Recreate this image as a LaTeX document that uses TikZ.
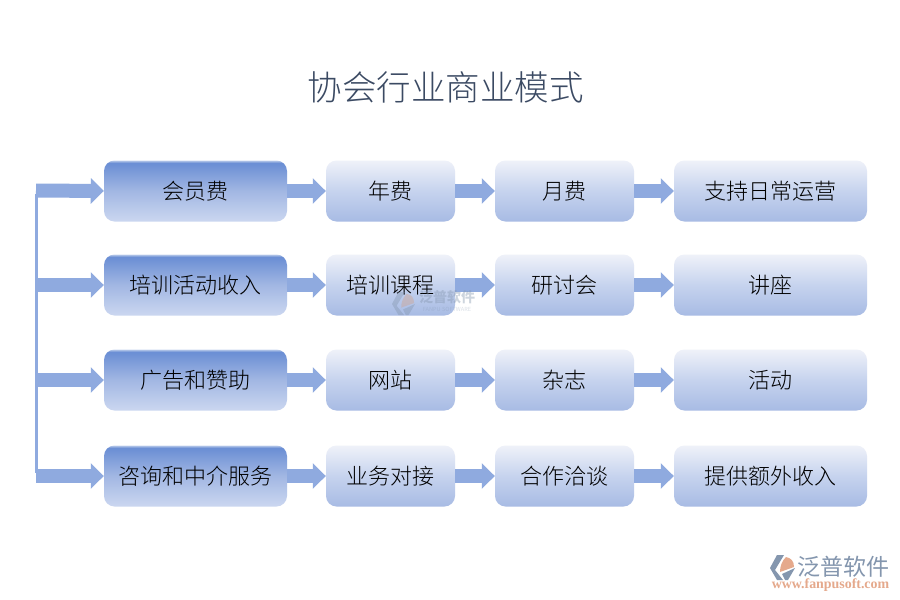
\documentclass[tikz,border=0pt]{standalone}
\usepackage{fontspec}
\usetikzlibrary{arrows.meta,positioning}
\newfontfamily\cjk{Noto Sans CJK SC}[Scale=1]
\newfontfamily\cjklight{Noto Sans CJK SC Light}
\setmainfont{Liberation Serif}
\definecolor{arrowblue}{HTML}{8FAADF}
\definecolor{titlecol}{HTML}{3B4A63}
\definecolor{logogray}{HTML}{8496AE}
\definecolor{logosalmon}{HTML}{E5A98C}
\definecolor{dA}{HTML}{CBD7F0}
\definecolor{dB}{HTML}{A2B7E3}
\definecolor{dD}{HTML}{6A8ED4}
\definecolor{dE}{HTML}{B9CAEA}
\definecolor{lA}{HTML}{A7BBE4}
\definecolor{lB}{HTML}{C6D3EE}
\definecolor{lC}{HTML}{EFF2F9}
\pgfdeclareverticalshading{darkshade}{100bp}{color(0bp)=(dA); color(25bp)=(dA); color(50bp)=(dB); color(73bp)=(dD); color(75bp)=(dE); color(100bp)=(dE)}
\pgfdeclareverticalshading{lightshade}{100bp}{color(0bp)=(lA); color(25bp)=(lA); color(50bp)=(lB); color(75bp)=(lC); color(100bp)=(lC)}
\tikzset{
 x=1pt,y=-1pt,
 lead/.style={anchor=center,minimum height=61pt,minimum width=183pt,rounded corners=10.5pt,shading=darkshade,inner sep=0pt,font=\cjklight\fontsize{22}{22}\selectfont,text=black},
 item/.style={anchor=center,minimum height=61pt,rounded corners=10.5pt,shading=lightshade,inner sep=0pt,font=\cjklight\fontsize{22}{22}\selectfont,text=black},
 flow/.style={draw=arrowblue,line width=14pt,-{Triangle[length=13pt,width=25pt,fill=arrowblue]}},
 trunk/.style={draw=arrowblue,line width=3pt},
}
\begin{document}
\begin{tikzpicture}
\useasboundingbox (0,0) rectangle (900,600);
\fill[white] (0,0) rectangle (900,600);
\node[font=\cjklight\fontsize{34.5}{34.5}\selectfont,text=titlecol] (title) at (445.5,87) {协会行业商业模式};
% row 1
\node[lead] (a1) at (195.5,191) {会员费};
\node[item,minimum width=129pt] (b1) at (390.5,191) {年费};
\node[item,minimum width=139pt] (c1) at (564.5,191) {月费};
\node[item,minimum width=193pt] (d1) at (770.5,191) {支持日常运营};
% row 2
\node[lead] (a2) at (195.5,285) {培训活动收入};
\node[item,minimum width=129pt] (b2) at (390.5,285) {培训课程};
\node[item,minimum width=139pt] (c2) at (564.5,285) {研讨会};
\node[item,minimum width=193pt] (d2) at (770.5,285) {讲座};
% row 3
\node[lead] (a3) at (195.5,380) {广告和赞助};
\node[item,minimum width=129pt] (b3) at (390.5,380) {网站};
\node[item,minimum width=139pt] (c3) at (564.5,380) {杂志};
\node[item,minimum width=193pt] (d3) at (770.5,380) {活动};
% row 4
\node[lead] (a4) at (195.5,476) {咨询和中介服务};
\node[item,minimum width=129pt] (b4) at (390.5,476) {业务对接};
\node[item,minimum width=139pt] (c4) at (564.5,476) {合作洽谈};
\node[item,minimum width=193pt] (d4) at (770.5,476) {提供额外收入};
% trunk coordinates
\coordinate (t1) at (36,190.5);
\coordinate (t2) at (36,285);
\coordinate (t3) at (36,380);
\coordinate (t4) at (36,476);
\draw[trunk] ([yshift=-3pt]t1) -- ([yshift=3pt]t4);
\foreach \r in {1,2,3,4}{
 \draw[flow] (t\r) -- (a\r.west);
 \draw[flow] (a\r.east) -- (b\r.west);
 \draw[flow] (b\r.east) -- (c\r.west);
 \draw[flow] (c\r.east) -- (d\r.west);
}
% centre watermark
\begin{scope}[opacity=.4,shift={(392,292)},scale=.92]
 \fill[logogray] (7,0) -- (14,0) -- (5,15) -- (13,25) -- (7,25) -- (0,13) -- cycle;
 \fill[logosalmon!80!gray] (16,2) .. controls (21,3) and (24,6) .. (24,12) -- (10,17) .. controls (10,11) and (12,6) .. (16,2) -- cycle;
 \fill[logogray] (12,19) -- (25,13) -- (18,25) -- (15,25) -- cycle;
\end{scope}
\node[opacity=.4,font=\cjk\bfseries\fontsize{14}{14}\selectfont,text=logogray] (wmark) at (447,297) {泛普软件};
\node[opacity=.3,font=\cjk\fontsize{5.6}{5.6}\selectfont,text=logogray] (wmarken) at (447,309.5) {FANPU SOFTWARE};
% bottom-right logo
\begin{scope}[shift={(770,555)}]
 \fill[logogray] (7,0) -- (14,0) -- (5,15) -- (13,25) -- (7,25) -- (0,13) -- cycle;
 \fill[logosalmon] (16,2) .. controls (21,3) and (24,6) .. (24,12) -- (10,17) .. controls (10,11) and (12,6) .. (16,2) -- cycle;
 \fill[logogray] (12,19) -- (25,13) -- (18,25) -- (15,25) -- cycle;
\end{scope}
\node[font=\cjk\fontsize{23}{23}\selectfont,text=logogray,anchor=center] (brand) at (843,567) {泛普软件};
\node[font=\bfseries\fontsize{13.9}{13.9}\selectfont,text=logosalmon,anchor=center] (url) at (830.5,585) {www.fanpusoft.com};
\end{tikzpicture}
\end{document}
